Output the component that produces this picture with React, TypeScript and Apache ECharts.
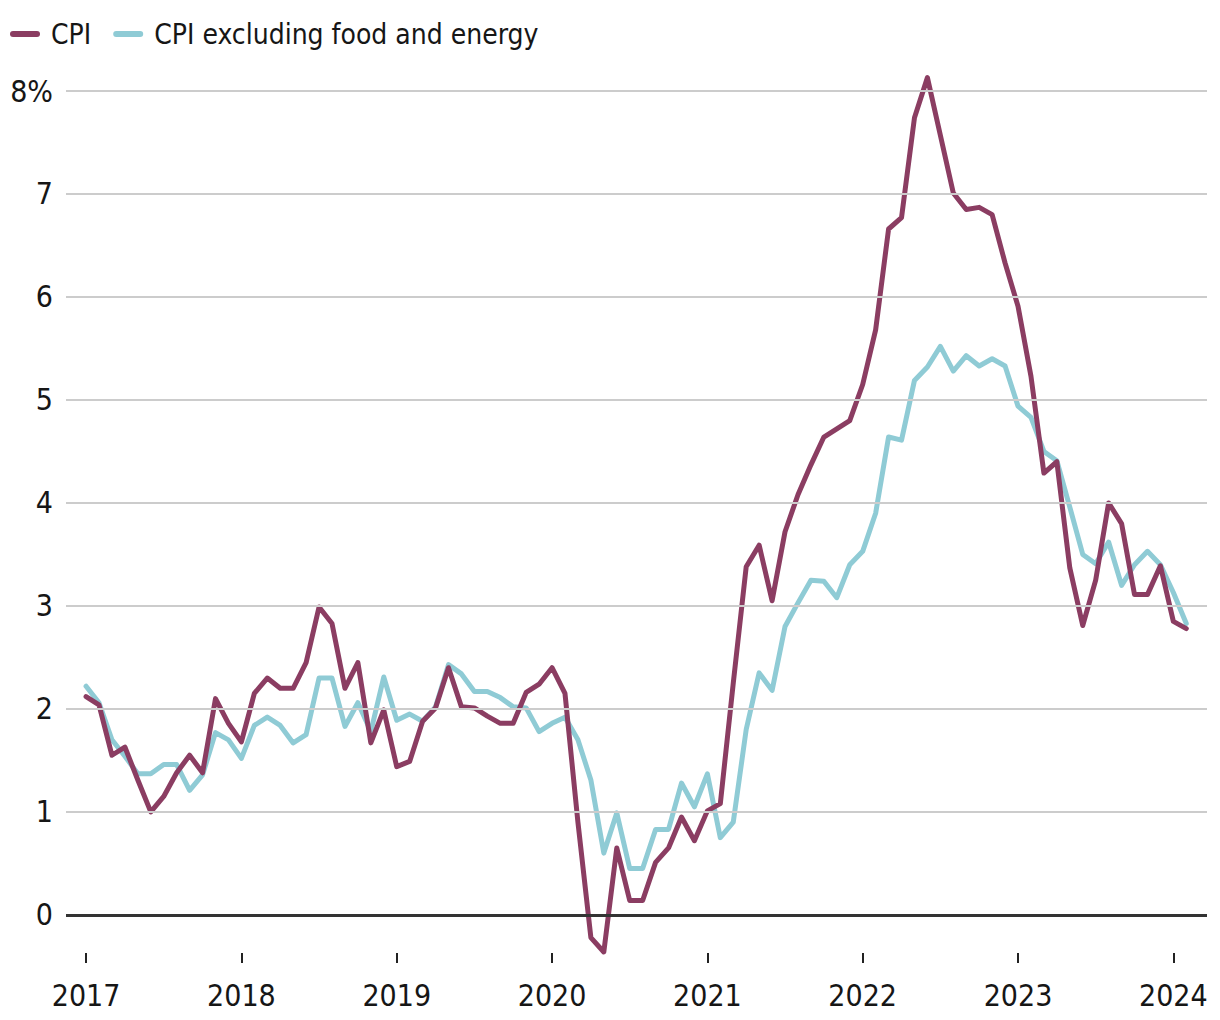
import React, { useEffect, useRef } from "react";
import * as echarts from "echarts";

// Monthly year-over-year change, Jan 2017 – Feb 2024 (percent)
const START_YEAR = 2017;
const CPI: number[] = [
  // 2017
  2.12, 2.04, 1.55, 1.63, 1.31, 1.0, 1.15, 1.38, 1.55, 1.38, 2.1, 1.86,
  // 2018
  1.68, 2.15, 2.3, 2.2, 2.2, 2.45, 2.99, 2.83, 2.2, 2.45, 1.67, 1.99,
  // 2019
  1.44, 1.49, 1.88, 2.01, 2.4, 2.02, 2.01, 1.93, 1.86, 1.86, 2.16, 2.24,
  // 2020
  2.4, 2.15, 0.9, -0.22, -0.36, 0.65, 0.14, 0.14, 0.51, 0.65, 0.95, 0.72,
  // 2021
  1.01, 1.08, 2.25, 3.38, 3.59, 3.05, 3.72, 4.08, 4.37, 4.64, 4.72, 4.8,
  // 2022
  5.15, 5.68, 6.66, 6.77, 7.74, 8.13, 7.57, 7.01, 6.85, 6.87, 6.8, 6.33,
  // 2023
  5.91, 5.23, 4.29, 4.4, 3.37, 2.81, 3.25, 4.0, 3.8, 3.11, 3.11, 3.39,
  // 2024
  2.85, 2.78,
];
const CORE: number[] = [
  // 2017
  2.22, 2.06, 1.7, 1.54, 1.37, 1.37, 1.46, 1.46, 1.21, 1.36, 1.77, 1.7,
  // 2018
  1.52, 1.84, 1.92, 1.84, 1.67, 1.75, 2.3, 2.3, 1.83, 2.06, 1.78, 2.31,
  // 2019
  1.89, 1.95, 1.88, 2.02, 2.43, 2.34, 2.17, 2.17, 2.11, 2.02, 2.01, 1.78,
  // 2020
  1.86, 1.92, 1.7, 1.31, 0.6, 0.99, 0.45, 0.45, 0.83, 0.83, 1.28, 1.05,
  // 2021
  1.37, 0.75, 0.9, 1.8, 2.35, 2.18, 2.8, 3.03, 3.25, 3.24, 3.08, 3.4,
  // 2022
  3.53, 3.9, 4.64, 4.61, 5.19, 5.32, 5.52, 5.28, 5.43, 5.33, 5.4, 5.33,
  // 2023
  4.94, 4.83, 4.5, 4.41, 3.96, 3.5, 3.41, 3.62, 3.2, 3.4, 3.53, 3.4,
  // 2024
  3.13, 2.83,
];
const YEAR_LABELS = ["2017", "2018", "2019", "2020", "2021", "2022", "2023", "2024"];
const Y_TICKS = [0, 1, 2, 3, 4, 5, 6, 7, 8];
const GRID_VALUES = [1, 2, 3, 4, 5, 6, 7, 8];

const MONTHS: string[] = CPI.map((_, i) => {
  const y = START_YEAR + Math.floor(i / 12);
  const m = (i % 12) + 1;
  return `${y}-${m < 10 ? "0" + m : m}`;
});

const FONT = "'DejaVu Sans Condensed', 'Noto Sans', sans-serif";
const PURPLE = "#8b3d62";
const TEAL = "#8fcbd5";
const TEXT = "#161616";

export default function App() {
  const ref = useRef<HTMLDivElement>(null);

  useEffect(() => {
    if (!ref.current) return;
    const chart = echarts.init(ref.current, undefined, { renderer: "svg" });
    const yearTicks = YEAR_LABELS.map((_, i) => i * 12);
    const option = {
      animation: false,
      backgroundColor: "#ffffff",
      textStyle: { fontFamily: FONT },
      legend: {
        data: ["CPI", "CPI excluding food and energy"],
        left: 10,
        top: 20,
        padding: 0,
        itemWidth: 30,
        itemHeight: 6,
        itemGap: 22,
        icon: "path://M3,0H27A3,3,0,0,1,27,6H3A3,3,0,0,1,3,0Z",
        textStyle: { fontSize: 28, color: TEXT, fontFamily: FONT, padding: [0, 0, 0, 6] },
        selectedMode: false,
      },
      grid: { left: 66, right: 13, top: 91, bottom: 67, containLabel: false },
      xAxis: {
        type: "value",
        min: -1.55,
        max: 86.6,
        axisLine: { show: false, onZero: false },
        splitLine: { show: false },
        axisTick: {
          show: true,
          customValues: yearTicks,
          length: 10,
          lineStyle: { color: "#222", width: 2 },
        },
        axisLabel: {
          customValues: yearTicks,
          formatter: (v: number) => YEAR_LABELS[Math.round(v / 12)] ?? "",
          fontSize: 30,
          color: TEXT,
          fontFamily: FONT,
          margin: 27,
        },
      },
      yAxis: {
        type: "value",
        min: -0.37,
        max: 8,
        axisLine: { show: false },
        axisTick: { show: false },
        splitLine: { show: false },
        axisLabel: {
          customValues: Y_TICKS,
          formatter: (v: number) => (v === 8 ? "8%" : String(v)),
          fontSize: 30,
          color: TEXT,
          fontFamily: FONT,
          margin: 13,
        },
      },
      series: [
        {
          name: "gridlines",
          type: "line",
          data: [],
          z: 1,
          silent: true,
          markLine: {
            silent: true,
            symbol: "none",
            label: { show: false },
            lineStyle: { color: "#cccccc", width: 2, type: "solid" },
            data: [
              ...GRID_VALUES.map((v) => ({ yAxis: v })),
              { yAxis: 0, lineStyle: { color: "#333333", width: 3, type: "solid" } },
            ],
          },
        },
        {
          name: "CPI excluding food and energy",
          type: "line",
          data: MONTHS.map((_, i) => [i, CORE[i]]),
          symbol: "none",
          clip: false,
          z: 3,
          itemStyle: { color: TEAL },
          lineStyle: { color: TEAL, width: 5, join: "round", cap: "round" },
        },
        {
          name: "CPI",
          type: "line",
          data: MONTHS.map((_, i) => [i, CPI[i]]),
          symbol: "none",
          clip: false,
          z: 4,
          itemStyle: { color: PURPLE },
          lineStyle: { color: PURPLE, width: 5, join: "round", cap: "round" },
        },
      ],
    };
    chart.setOption(option as any);
    return () => chart.dispose();
  }, []);

  return (
    <div
      ref={ref}
      style={{ position: "fixed", left: 0, top: 0, width: 1220, height: 1020, background: "#fff" }}
    />
  );
}
